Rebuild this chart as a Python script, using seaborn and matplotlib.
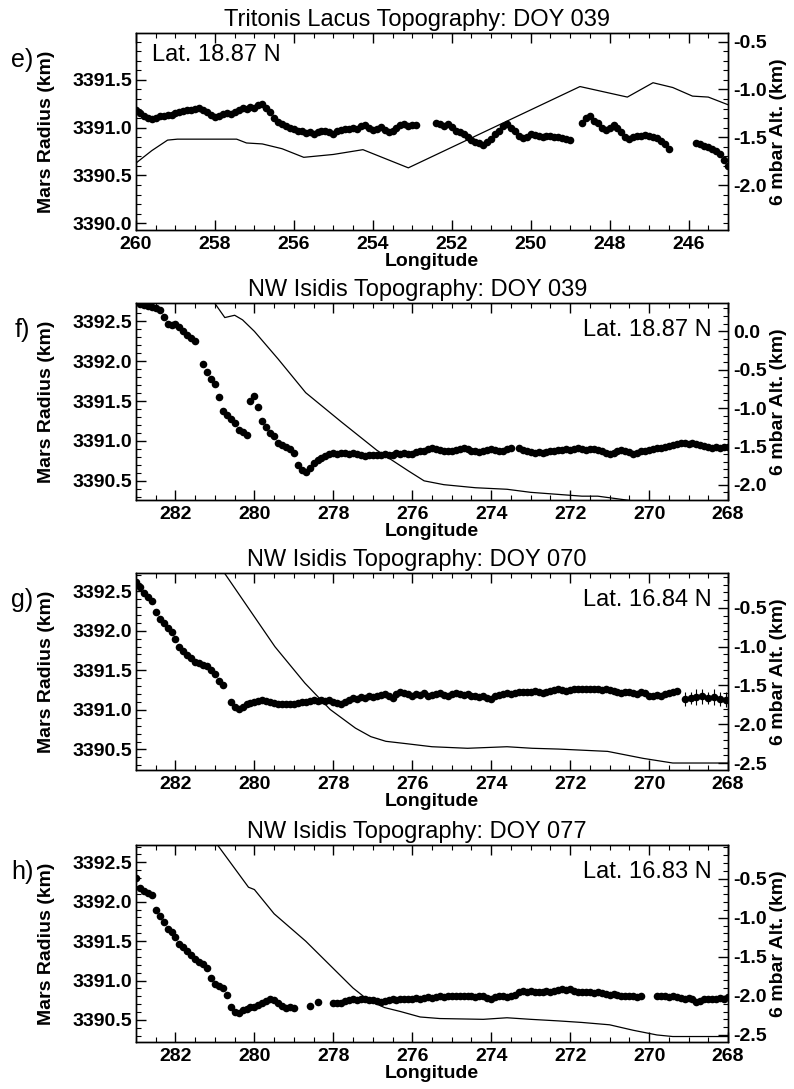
import numpy as np
import pandas as pd
import matplotlib
matplotlib.use("Agg")
import matplotlib.pyplot as plt
import seaborn as sns
from matplotlib.ticker import MultipleLocator, FormatStrFormatter

# ---------------------------------------------------------------- data
# Panel e: Tritonis Lacus, DOY 039 (dots = Mars radius, km ; line = 6 mbar altitude, km)
E_SEG1_START = 260.0
E_SEG1_RAD = [3391.18, 3391.15, 3391.12, 3391.10, 3391.09, 3391.10, 3391.12, 3391.12, 3391.13, 3391.13,
              3391.15, 3391.16, 3391.17, 3391.18, 3391.19, 3391.20, 3391.21, 3391.19, 3391.16, 3391.13,
              3391.11, 3391.12, 3391.14, 3391.15, 3391.14, 3391.16, 3391.19, 3391.21, 3391.20, 3391.22,
              3391.21, 3391.24, 3391.25, 3391.21, 3391.16, 3391.10, 3391.06, 3391.04, 3391.02, 3391.00,
              3390.99, 3390.97, 3390.96, 3390.94, 3390.95, 3390.93, 3390.95, 3390.96, 3390.97, 3390.95,
              3390.93, 3390.96, 3390.98, 3390.99, 3390.99, 3391.00, 3390.99, 3391.02, 3391.03, 3391.00,
              3390.98, 3390.99, 3391.01, 3390.98, 3390.95, 3390.96, 3391.00, 3391.03, 3391.04, 3391.02,
              3391.03, 3391.03]
E_SEG2_START = 252.4
E_SEG2_RAD = [3391.05, 3391.04, 3391.02, 3391.04, 3391.01, 3390.97, 3390.95, 3390.93, 3390.90, 3390.87,
              3390.85, 3390.84, 3390.82, 3390.85, 3390.88, 3390.93, 3390.96, 3391.02, 3391.04, 3391.00,
              3390.96, 3390.91, 3390.89, 3390.90, 3390.93, 3390.92, 3390.91, 3390.90, 3390.91, 3390.91,
              3390.90, 3390.90, 3390.89, 3390.88, 3390.87]
E_SEG3_START = 248.7
E_SEG3_RAD = [3391.05, 3391.10, 3391.12, 3391.07, 3391.05, 3391.00, 3390.98, 3391.00, 3391.03, 3391.00,
              3390.95, 3390.90, 3390.88, 3390.90, 3390.91, 3390.91, 3390.92, 3390.91, 3390.90, 3390.89,
              3390.86, 3390.83, 3390.78]
E_SEG4_START = 245.8
E_SEG4_RAD = [3390.84, 3390.83, 3390.81, 3390.80, 3390.78, 3390.76, 3390.72, 3390.66, 3390.60]
E_LINE_LON = [260.0, 259.6, 259.2, 258.95, 257.45, 257.2, 256.8, 256.3, 255.75, 255.0, 254.25, 253.1,
              248.75, 247.55, 246.9, 246.4, 245.9, 245.5, 245.0]
E_LINE_ALT = [-1.77, -1.64, -1.53, -1.52, -1.52, -1.56, -1.57, -1.62, -1.71, -1.68, -1.63, -1.82,
              -0.97, -1.08, -0.93, -0.98, -1.07, -1.08, -1.16]

# Panel f: NW Isidis, DOY 039
F_SEG1_START = 282.9
F_SEG1_RAD = [3392.72, 3392.70, 3392.69, 3392.68, 3392.67, 3392.64, 3392.55, 3392.47, 3392.45, 3392.47,
              3392.43, 3392.38, 3392.33, 3392.29, 3392.25]
F_SEG2_START = 281.3
F_SEG2_RAD = [3391.97, 3391.87, 3391.78, 3391.72, 3391.55, 3391.38, 3391.33, 3391.27, 3391.23, 3391.14,
              3391.11, 3391.08]
F_SEG3_START = 280.1
F_SEG3_RAD = [3391.50, 3391.56, 3391.42, 3391.25, 3391.17, 3391.10, 3391.06, 3390.98, 3390.95, 3390.93,
              3390.90, 3390.85, 3390.70, 3390.63, 3390.61, 3390.66, 3390.72, 3390.76, 3390.79, 3390.81,
              3390.84, 3390.85, 3390.84, 3390.85, 3390.85, 3390.84, 3390.85, 3390.84, 3390.82, 3390.81,
              3390.82, 3390.83, 3390.82, 3390.83, 3390.84, 3390.83, 3390.83, 3390.85, 3390.84, 3390.85,
              3390.84, 3390.84, 3390.86, 3390.87, 3390.88, 3390.90, 3390.91, 3390.90, 3390.89, 3390.88,
              3390.87, 3390.88, 3390.89, 3390.90, 3390.91, 3390.90, 3390.88, 3390.87, 3390.86, 3390.88,
              3390.89, 3390.90, 3390.89, 3390.87, 3390.88, 3390.90, 3390.91]
F_SEG4_START = 273.3
F_SEG4_RAD = [3390.91, 3390.89, 3390.87, 3390.86, 3390.85, 3390.86, 3390.85, 3390.86, 3390.87, 3390.88,
              3390.89, 3390.89, 3390.90, 3390.89, 3390.90, 3390.91, 3390.90, 3390.89, 3390.90, 3390.90,
              3390.89, 3390.87, 3390.85, 3390.84, 3390.85, 3390.87, 3390.89, 3390.88, 3390.86, 3390.84,
              3390.85, 3390.87, 3390.88, 3390.89, 3390.90, 3390.91, 3390.91, 3390.93, 3390.94, 3390.95,
              3390.96, 3390.97, 3390.97, 3390.96, 3390.97, 3390.96, 3390.95, 3390.94, 3390.92, 3390.91,
              3390.92, 3390.91, 3390.93, 3390.92]
F_LINE_LON = [281.05, 280.75, 280.5, 280.3, 280.0, 279.4, 278.7, 277.8, 276.9, 276.1, 275.7, 275.2,
              274.4, 273.6, 273.0, 271.7, 271.3, 270.0]
F_LINE_ALT = [0.40, 0.18, 0.21, 0.15, 0.0, -0.36, -0.80, -1.18, -1.55, -1.82, -1.95, -2.00,
              -2.04, -2.06, -2.10, -2.15, -2.15, -2.24]

# Panel g: NW Isidis, DOY 070
G_SEG1_START = 283.0
G_SEG1_RAD = [3392.62, 3392.55, 3392.48, 3392.43, 3392.38, 3392.24, 3392.15, 3392.10, 3392.04, 3391.99,
              3391.89, 3391.80, 3391.74, 3391.69, 3391.65, 3391.61, 3391.59, 3391.57, 3391.55, 3391.50,
              3391.45, 3391.37, 3391.32]
G_SEG2_START = 280.6
G_SEG2_RAD = [3391.10, 3391.03, 3391.01, 3391.04, 3391.07, 3391.09, 3391.10, 3391.11, 3391.12, 3391.11,
              3391.10, 3391.09, 3391.08, 3391.08, 3391.07, 3391.08, 3391.08, 3391.09, 3391.10, 3391.10,
              3391.11, 3391.12, 3391.11, 3391.12, 3391.11, 3391.12, 3391.10, 3391.09, 3391.07, 3391.10,
              3391.13, 3391.15, 3391.14, 3391.16, 3391.15, 3391.17, 3391.16, 3391.18, 3391.19, 3391.20,
              3391.17, 3391.15, 3391.20, 3391.22, 3391.21, 3391.20, 3391.18, 3391.20, 3391.19, 3391.21,
              3391.18, 3391.19, 3391.20, 3391.21, 3391.19, 3391.18, 3391.20, 3391.21, 3391.20, 3391.19,
              3391.20, 3391.18, 3391.17, 3391.16, 3391.18, 3391.15, 3391.14, 3391.17, 3391.19, 3391.20,
              3391.21, 3391.20, 3391.21, 3391.22, 3391.23, 3391.22, 3391.23, 3391.24, 3391.22, 3391.21,
              3391.23, 3391.24, 3391.25, 3391.26, 3391.25, 3391.24, 3391.25, 3391.26, 3391.27, 3391.26,
              3391.27, 3391.26, 3391.27, 3391.26, 3391.25, 3391.26, 3391.25, 3391.24, 3391.22, 3391.21,
              3391.23, 3391.22, 3391.21, 3391.20, 3391.22, 3391.21, 3391.18, 3391.17, 3391.19, 3391.18,
              3391.20, 3391.21, 3391.22, 3391.24]
G_ERR_LON = [269.1, 268.95, 268.8, 268.65, 268.5, 268.35, 268.2, 268.05]
G_ERR_RAD = [3391.14, 3391.15, 3391.16, 3391.17, 3391.15, 3391.16, 3391.14, 3391.13]
G_ERR_SIZE = [0.09, 0.08, 0.10, 0.09, 0.08, 0.10, 0.09, 0.10]
G_LINE_LON = [280.76, 279.48, 278.72, 278.08, 277.44, 277.05, 276.67, 276.16, 275.5, 274.6, 274.1,
              273.6, 272.96, 272.3, 271.05, 270.15, 269.4, 268.0]
G_LINE_ALT = [-0.05, -1.00, -1.47, -1.81, -2.05, -2.16, -2.22, -2.25, -2.29, -2.31, -2.30,
              -2.29, -2.31, -2.32, -2.35, -2.44, -2.50, -2.50]

# Panel h: NW Isidis, DOY 077
H_SEG1_START = 283.0
H_SEG1_RAD = [3392.30, 3392.18, 3392.13, 3392.11, 3392.08, 3391.90, 3391.82, 3391.74, 3391.66, 3391.62,
              3391.55, 3391.47, 3391.42, 3391.38, 3391.32, 3391.27, 3391.24, 3391.21, 3391.16, 3391.03,
              3390.95, 3390.93, 3390.90, 3390.82, 3390.66, 3390.60, 3390.59, 3390.62, 3390.64, 3390.66,
              3390.67, 3390.69, 3390.71, 3390.74, 3390.77, 3390.75, 3390.72, 3390.68, 3390.65, 3390.66,
              3390.65]
H_SEG2_LON = [278.6, 278.4]
H_SEG2_RAD = [3390.68, 3390.73]
H_SEG3_START = 278.0
H_SEG3_RAD = [3390.71, 3390.71, 3390.72, 3390.74, 3390.75, 3390.76, 3390.75, 3390.76, 3390.76, 3390.75,
              3390.75, 3390.74, 3390.73, 3390.74, 3390.75, 3390.76, 3390.75, 3390.76, 3390.77, 3390.76,
              3390.77, 3390.78, 3390.77, 3390.78, 3390.79, 3390.78, 3390.79, 3390.80, 3390.79, 3390.80,
              3390.81, 3390.80, 3390.81, 3390.80, 3390.81, 3390.80, 3390.79, 3390.80, 3390.81, 3390.78,
              3390.76, 3390.79, 3390.81, 3390.80, 3390.79, 3390.80, 3390.82, 3390.85, 3390.87, 3390.86,
              3390.87, 3390.86, 3390.85, 3390.86, 3390.87, 3390.86, 3390.87, 3390.88, 3390.89, 3390.88,
              3390.89, 3390.87, 3390.86, 3390.85, 3390.86, 3390.85, 3390.84, 3390.85, 3390.84, 3390.83,
              3390.82, 3390.83, 3390.82, 3390.81, 3390.80, 3390.81, 3390.80, 3390.79, 3390.80]
H_SEG4_START = 269.8
H_SEG4_RAD = [3390.80, 3390.81, 3390.80, 3390.79, 3390.80, 3390.79, 3390.78, 3390.77, 3390.78, 3390.76,
              3390.73, 3390.74, 3390.76, 3390.77, 3390.76, 3390.77, 3390.78, 3390.77, 3390.79]
H_LINE_LON = [280.92, 280.15, 280.0, 279.5, 278.7, 277.5, 277.1, 276.7, 276.3, 275.8, 275.3, 274.2,
              273.6, 273.0, 272.3, 271.7, 271.0, 270.4, 269.8, 269.4, 268.0]
H_LINE_ALT = [-0.08, -0.61, -0.64, -0.95, -1.30, -1.90, -2.06, -2.15, -2.20, -2.27, -2.29, -2.30,
              -2.28, -2.30, -2.32, -2.34, -2.37, -2.44, -2.50, -2.52, -2.52]

TITLES = ["Tritonis Lacus Topography: DOY 039", "NW Isidis Topography: DOY 039",
          "NW Isidis Topography: DOY 070", "NW Isidis Topography: DOY 077"]
PANEL_TAGS = ["e)", "f)", "g)", "h)"]
LAT_LABELS = ["Lat. 18.87 N", "Lat. 18.87 N", "Lat. 16.84 N", "Lat. 16.83 N"]
XLIMS = [(260, 245), (283, 268), (283, 268), (283, 268)]
LEFT_YLIMS = [(3389.93, 3391.99), (3390.26, 3392.73), (3390.24, 3392.73), (3390.22, 3392.72)]
RIGHT_YLIMS = [(-2.47, -0.41), (-2.20, 0.37), (-2.59, -0.05), (-2.59, -0.07)]


def seg(start, vals, step=0.1):
    lon = np.round(start - step * np.arange(len(vals)), 3)
    return pd.DataFrame({"lon": lon, "radius": vals})


dots = [
    pd.concat([seg(E_SEG1_START, E_SEG1_RAD), seg(E_SEG2_START, E_SEG2_RAD),
               seg(E_SEG3_START, E_SEG3_RAD), seg(E_SEG4_START, E_SEG4_RAD)]),
    pd.concat([seg(F_SEG1_START, F_SEG1_RAD), seg(F_SEG2_START, F_SEG2_RAD),
               seg(F_SEG3_START, F_SEG3_RAD), seg(F_SEG4_START, F_SEG4_RAD)]),
    pd.concat([seg(G_SEG1_START, G_SEG1_RAD), seg(G_SEG2_START, G_SEG2_RAD),
               pd.DataFrame({"lon": G_ERR_LON, "radius": G_ERR_RAD})]),
    pd.concat([seg(H_SEG1_START, H_SEG1_RAD), pd.DataFrame({"lon": H_SEG2_LON, "radius": H_SEG2_RAD}),
               seg(H_SEG3_START, H_SEG3_RAD), seg(H_SEG4_START, H_SEG4_RAD)]),
]
lines = [
    pd.DataFrame({"lon": E_LINE_LON, "alt": E_LINE_ALT}),
    pd.DataFrame({"lon": F_LINE_LON, "alt": F_LINE_ALT}),
    pd.DataFrame({"lon": G_LINE_LON, "alt": G_LINE_ALT}),
    pd.DataFrame({"lon": H_LINE_LON, "alt": H_LINE_ALT}),
]

# ---------------------------------------------------------------- style
sns.set_theme(style="ticks")
plt.rcParams["font.family"] = ["Liberation Sans", "DejaVu Sans"]
plt.rcParams.update({
    "axes.edgecolor": "black", "axes.linewidth": 1.0,
    "xtick.color": "black", "ytick.color": "black",
    "text.color": "black", "axes.labelcolor": "black",
})

fig = plt.figure(figsize=(7.94, 10.89), dpi=100)
W, H = 794.0, 1089.0
AX_L, AX_W, AX_HPX = 136 / W, 592 / W, 197.0
TOPS = [33, 303, 573, 845]

for i in range(4):
    top = TOPS[i]
    ax = fig.add_axes([AX_L, 1 - (top + AX_HPX) / H, AX_W, AX_HPX / H])
    sns.scatterplot(data=dots[i], x="lon", y="radius", ax=ax, color="black",
                    s=30, linewidth=0, legend=False, zorder=3)
    if i == 2:
        ax.errorbar(G_ERR_LON, G_ERR_RAD, yerr=G_ERR_SIZE, fmt="none",
                    ecolor="black", elinewidth=0.8, capsize=0, zorder=3)
    ax2 = ax.twinx()
    sns.lineplot(data=lines[i], x="lon", y="alt", ax=ax2, color="black",
                 linewidth=0.9, sort=False, estimator=None)
    ax.set_xlim(*XLIMS[i])
    ax.set_ylim(*LEFT_YLIMS[i])
    ax2.set_ylim(*RIGHT_YLIMS[i])

    for a in (ax, ax2):
        a.yaxis.set_major_locator(MultipleLocator(0.5))
        a.yaxis.set_minor_locator(MultipleLocator(0.1))
        a.yaxis.set_major_formatter(FormatStrFormatter("%.1f"))
    ax.xaxis.set_major_locator(MultipleLocator(2))
    ax.xaxis.set_minor_locator(MultipleLocator(0.5))
    ax.xaxis.set_major_formatter(FormatStrFormatter("%d"))

    ax.tick_params(axis="both", which="both", direction="in", top=True, right=False)
    ax.tick_params(which="major", length=7, width=1.0)
    ax.tick_params(which="minor", length=3.5, width=0.8)
    ax.tick_params(axis="y", pad=3, labelsize=14)
    ax.tick_params(axis="x", pad=4, labelsize=14)
    ax2.tick_params(axis="y", which="both", direction="in", right=True, left=False,
                    pad=4, labelsize=14)
    ax2.tick_params(which="major", length=7, width=1.0)
    ax2.tick_params(which="minor", length=3.5, width=0.8)
    for lbl in ax.get_xticklabels() + ax.get_yticklabels() + ax2.get_yticklabels():
        lbl.set_fontweight("bold")

    ax.set_xlabel("Longitude", fontsize=14, fontweight="bold")
    ax.xaxis.set_label_coords(0.5, -0.118)
    ax.set_ylabel("Mars Radius (km)", fontsize=14, fontweight="bold")
    ax.yaxis.set_label_coords(-0.137, 0.5)
    ax2.set_ylabel("6 mbar Alt. (km)", fontsize=14, fontweight="bold")
    ax2.yaxis.set_label_coords(1.071, 0.5)

    ax.set_title(TITLES[i], fontsize=17, x=0.475, pad=5)
    if i == 0:
        ax.text(0.027, 0.888, LAT_LABELS[i], transform=ax.transAxes, fontsize=17,
                ha="left", va="center")
    else:
        ax.text(0.973, 0.863, LAT_LABELS[i], transform=ax.transAxes, fontsize=17,
                ha="right", va="center")
    fig.text(22 / W, 1 - (top + 27) / H, PANEL_TAGS[i], fontsize=18,
             ha="center", va="center")

fig.savefig("out.png", dpi=100, facecolor="white")
